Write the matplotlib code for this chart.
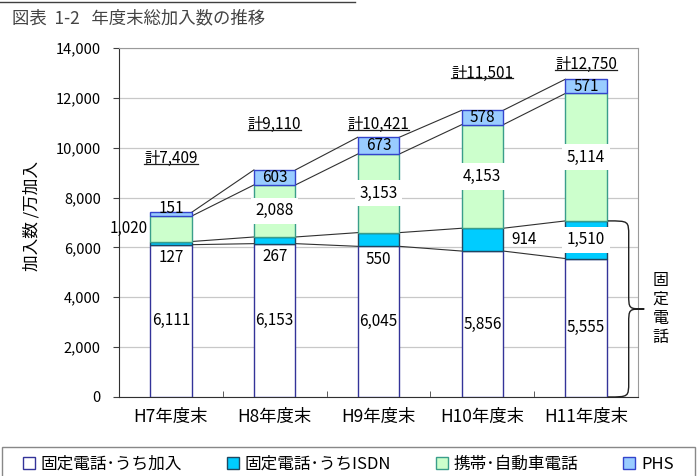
"""
年度末総加入数の推移 (図表 1-2): stacked bars with series lines.
"""
import numpy as np
import matplotlib
matplotlib.use("Agg")
import matplotlib.pyplot as plt
from matplotlib.lines import Line2D
from matplotlib.patches import Patch, PathPatch, Rectangle
from matplotlib.path import Path

plt.rcParams["font.family"] = ["Noto Sans CJK JP", "DejaVu Sans"]

# ── data (万加入) ────────────────────────────────────────────────────────────
years   = ["H7年度末", "H8年度末", "H9年度末", "H10年度末", "H11年度末"]
fixed   = [6111, 6153, 6045, 5856, 5555]   # 固定電話・うち加入
isdn    = [127, 267, 550, 914, 1510]       # 固定電話・うちISDN
mobile  = [1020, 2088, 3153, 4153, 5114]   # 携帯・自動車電話
phs     = [151, 603, 673, 578, 571]        # PHS
totals  = ["7,409", "9,110", "10,421", "11,501", "12,750"]
series_names = ["固定電話\uff65うち加入", "固定電話\uff65うちISDN",
                "携帯\uff65自動車電話", "PHS"]

# label placement per bar (style only)
isdn_place   = ["below", "below", "below", "right", "box"]
mobile_place = ["left", "box", "box", "box", "box"]
phs_place    = ["above", "in", "in", "in", "in"]
total_lift   = [2180, 1840, 530, 1500, 610]

FACE = ["#FFFFFF", "#00CCFF", "#CCFFCC", "#99CCFF"]
EDGE = ["#333399", "#1F4760", "#3A9E8A", "#3344CC"]
W = 0.4

fig = plt.figure(figsize=(6.97, 4.76), dpi=100)
ax = fig.add_axes([0.1707, 0.166, 0.7447, 0.733])

x = np.arange(len(years))
layers = [np.array(fixed), np.array(isdn), np.array(mobile), np.array(phs)]
bottom = np.zeros(len(years))
tops = []
for vals, fc, ec, name in zip(layers, FACE, EDGE, series_names):
    ax.bar(x, vals, W, bottom=bottom, color=fc, edgecolor=ec, lw=1.0,
           zorder=3, label=name)
    bottom = bottom + vals
    tops.append(bottom.copy())

# series lines between bars
for top in tops:
    for i in range(len(years) - 1):
        ax.plot([x[i] + W / 2, x[i + 1] - W / 2], [top[i], top[i + 1]],
                color="#303030", lw=0.8, zorder=2)

def fmt(v):
    return f"{v:,}"

FS = 11
cum_fixed = np.array(fixed)
cum_isdn = tops[1]
cum_mob = tops[2]
box = dict(facecolor="white", edgecolor="none", boxstyle="square,pad=0.3")

for i in range(len(years)):
    ax.text(x[i], fixed[i] / 2, fmt(fixed[i]), ha="center", va="center",
            fontsize=FS, zorder=5)
    # ISDN
    yc = cum_fixed[i] + isdn[i] / 2
    if isdn_place[i] == "below":
        ax.text(x[i], cum_fixed[i] - 520, fmt(isdn[i]), ha="center",
                va="center", fontsize=FS, zorder=5)
    elif isdn_place[i] == "right":
        ax.text(x[i] + W / 2 + 0.08, yc, fmt(isdn[i]), ha="left",
                va="center", fontsize=FS, zorder=5)
    else:
        ax.text(x[i], yc, fmt(isdn[i]), ha="center", va="center",
                fontsize=FS, zorder=5, bbox=box)
    # mobile
    yc = cum_isdn[i] + mobile[i] / 2
    if mobile_place[i] == "left":
        ax.text(x[i] - W / 2 - 0.02, yc, fmt(mobile[i]), ha="right",
                va="center", fontsize=FS, zorder=5)
    else:
        ax.text(x[i], yc, fmt(mobile[i]), ha="center", va="center",
                fontsize=FS, zorder=5, bbox=box)
    # PHS
    if phs_place[i] == "above":
        ax.text(x[i], cum_mob[i] + phs[i] + 170, fmt(phs[i]), ha="center",
                va="center", fontsize=FS, zorder=5)
    else:
        ax.text(x[i], cum_mob[i] + phs[i] / 2, fmt(phs[i]), ha="center",
                va="center", fontsize=FS, zorder=5)

total_texts = []
for i in range(len(years)):
    t = ax.text(x[i], tops[3][i] + total_lift[i], "計" + totals[i],
                ha="center", va="center", fontsize=FS, zorder=5)
    total_texts.append(t)

# brace for 固定電話
bx0, bx1, bx2 = x[-1] + W / 2 + 0.01, x[-1] + 0.41, x[-1] + 0.56
ytop, ybot = tops[1][-1], 0
ymid = (ytop + ybot) / 2
r = 600
verts = [(bx0, ytop), (bx1, ytop), (bx1, ytop), (bx1, ytop - r),
         (bx1, ymid + r),
         (bx1, ymid), (bx1, ymid), (bx2, ymid),
         (bx1, ymid), (bx1, ymid), (bx1, ymid - r),
         (bx1, ybot + r),
         (bx1, ybot), (bx1, ybot), (bx0, ybot)]
codes = [Path.MOVETO, Path.CURVE4, Path.CURVE4, Path.CURVE4,
         Path.LINETO,
         Path.CURVE4, Path.CURVE4, Path.CURVE4,
         Path.CURVE4, Path.CURVE4, Path.CURVE4,
         Path.LINETO,
         Path.CURVE4, Path.CURVE4, Path.CURVE4]
ax.add_patch(PathPatch(Path(verts, codes), facecolor="none", edgecolor="#202020",
                       lw=1.0, clip_on=False, zorder=6))
ax.text(x[-1] + 0.72, ymid, "固\n定\n電\n話", ha="center", va="center",
        fontsize=11.5, linespacing=1.15, clip_on=False)

# axes styling
ax.set_xlim(-0.5, len(years) - 0.5)
ax.set_ylim(0, 14000)
ax.set_yticks(np.arange(0, 14001, 2000))
ax.set_yticklabels([fmt(v) for v in range(0, 14001, 2000)], fontsize=10.5)
ax.set_xticks(x)
ax.set_xticklabels(years, fontsize=12.5)
ax.set_xticks(np.arange(-0.5, len(years), 1.0), minor=True)
ax.tick_params(axis="x", which="major", length=0, pad=8)
ax.tick_params(axis="x", which="minor", direction="in", length=4, color="#404040")
ax.tick_params(axis="y", direction="out", length=4, pad=9, color="#404040")
ax.yaxis.grid(True, color="#C8C8C8", lw=0.9, zorder=0)
ax.set_axisbelow(True)
for s in ["top", "right"]:
    ax.spines[s].set_color("#9A9A9A")
for s in ["left", "bottom"]:
    ax.spines[s].set_color("#303030")
ax.set_ylabel("加入数 /万加入", fontsize=12)
ax.yaxis.set_label_coords(-0.152, 0.52)

# title
fig.text(0.017, 0.962, "図表  1-2   年度末総加入数の推移", fontsize=12.5,
         color="#444444", va="center", ha="left")
fig.add_artist(Line2D([0, 0.51], [0.996, 0.996], color="#404040", lw=1.0))

# legend with a full-width frame
fig.add_artist(Rectangle((0.003, -0.02), 0.994, 0.081, transform=fig.transFigure,
                         facecolor="white", edgecolor="#888888", lw=1.0))
handles = [Patch(facecolor=fc, edgecolor=ec, lw=1.0) for fc, ec in zip(FACE, EDGE)]
leg = fig.legend(handles, series_names, loc="center", ncol=4,
                 bbox_to_anchor=(0.5, 0.025), frameon=False,
                 fontsize=12, handlelength=0.7, handleheight=0.7,
                 handletextpad=0.35, borderaxespad=0, columnspacing=2.7)

# underline the totals
fig.canvas.draw()
for t in total_texts:
    bb = t.get_window_extent()
    yb = bb.y0 + 3
    fig.add_artist(Line2D([bb.x0 / fig.bbox.width, bb.x1 / fig.bbox.width],
                          [yb / fig.bbox.height, yb / fig.bbox.height],
                          color="#202020", lw=0.9))

fig.savefig("out.png", dpi=100)
